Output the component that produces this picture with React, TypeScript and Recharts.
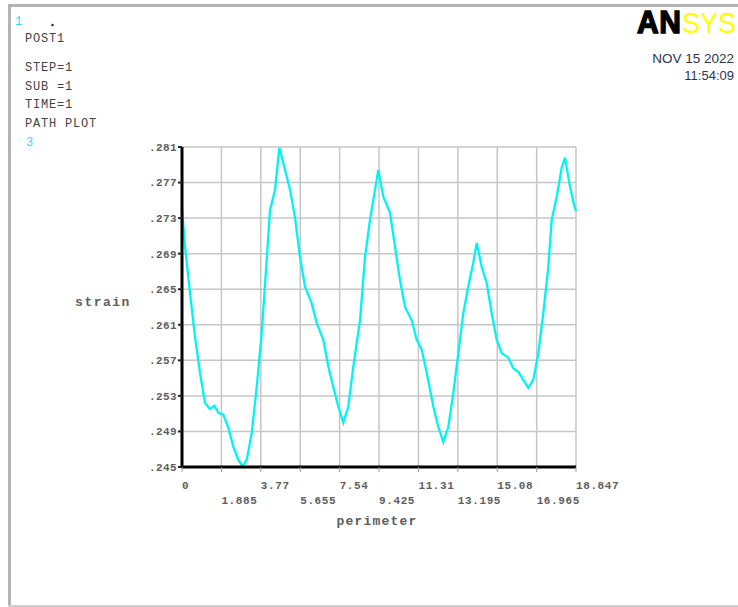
import { LineChart, Line, XAxis, YAxis, CartesianGrid } from 'recharts';

const perimeter = [
  0, 0.144, 0.383, 0.622, 0.861, 1.1, 1.339, 1.545, 1.737, 1.976, 2.215, 2.454, 2.693, 2.904,
  3.095, 3.334, 3.573, 3.813, 4.052, 4.21, 4.449, 4.655, 4.846, 5.166, 5.405, 5.644, 5.884,
  6.204, 6.443, 6.759, 6.998, 7.237, 7.477, 7.716, 7.955, 8.194, 8.515, 8.754, 8.993, 9.39,
  9.629, 9.95, 10.189, 10.428, 10.667, 10.988, 11.227, 11.466, 11.705, 12.021, 12.26, 12.499,
  12.739, 12.978, 13.217, 13.456, 13.695, 13.934, 14.097, 14.336, 14.575, 14.815, 15.054,
  15.293, 15.609, 15.848, 16.087, 16.326, 16.565, 16.804, 17.044, 17.283, 17.522, 17.684,
  17.924, 18.163, 18.321, 18.56, 18.799, 18.847,
];

const strain = [
  0.2741, 0.2698, 0.2646, 0.2596, 0.2556, 0.2522, 0.2515, 0.2519, 0.2511, 0.2509, 0.2494,
  0.2473, 0.2458, 0.2451, 0.2458, 0.2488, 0.254, 0.2601, 0.2683, 0.2739, 0.2762, 0.2809,
  0.2792, 0.2762, 0.2731, 0.2686, 0.2653, 0.2634, 0.2612, 0.2593, 0.2563, 0.254, 0.2518,
  0.25, 0.2518, 0.2563, 0.2615, 0.2686, 0.2728, 0.2784, 0.2754, 0.2736, 0.2698, 0.266,
  0.263, 0.2615, 0.2593, 0.2582, 0.2556, 0.2518, 0.2495, 0.2478, 0.2495, 0.2533, 0.2578,
  0.2623, 0.2653, 0.268, 0.2702, 0.2675, 0.2657, 0.2623, 0.2593, 0.2578, 0.2573, 0.2561,
  0.2557, 0.2548, 0.2539, 0.2548, 0.2578, 0.2623, 0.2675, 0.2728, 0.2754, 0.2787, 0.2798,
  0.2765, 0.2741, 0.2738,
];

const xTicks = [0, 1.885, 3.77, 5.655, 7.54, 9.425, 11.31, 13.195, 15.08, 16.965, 18.847];
const yTicks = [0.245, 0.249, 0.253, 0.257, 0.261, 0.265, 0.269, 0.273, 0.277, 0.281];

const infoLines = ['STEP=1', 'SUB =1', 'TIME=1', 'PATH PLOT'];

const data = perimeter.map((p, i) => ({ p, s: strain[i] }));

const mono = '"Liberation Mono", "DejaVu Sans Mono", monospace';
const sans = '"Liberation Sans", Arial, sans-serif';

const XTick = (props: any) => {
  const { x, y, payload, index } = props;
  return (
    <text
      x={x}
      y={y}
      dy={index % 2 === 0 ? 15 : 30}
      textAnchor="start"
      fontFamily={mono}
      fontSize={11}
      fontWeight="bold"
      fill="#5e5e5e"
      letterSpacing={0.6}
    >
      {payload.value}
    </text>
  );
};

export default function App() {
  return (
    <div style={{ position: 'absolute', left: 0, top: 0, width: 738, height: 607, background: '#fff' }}>
      <LineChart
        width={738}
        height={607}
        data={data}
        margin={{ top: 147, right: 162, left: 142, bottom: 100 }}
      >
        <CartesianGrid stroke="#c6c6c6" strokeWidth={1.5} />
        <XAxis
          dataKey="p"
          type="number"
          domain={[0, 18.847]}
          ticks={xTicks}
          height={40}
          tick={<XTick />}
          tickSize={5}
          tickMargin={2}
          tickLine={{ stroke: '#999', strokeWidth: 1 }}
          axisLine={{ stroke: '#000', strokeWidth: 3 }}
          interval={0}
          label={{
            value: 'perimeter',
            content: () => (
              <text x={377} y={525} textAnchor="middle" fontFamily={mono} fontSize={13}
                fontWeight="bold" fill="#5e5e5e" letterSpacing={1.2}>perimeter</text>
            ),
          }}
        />
        <YAxis
          type="number"
          domain={[0.245, 0.281]}
          ticks={yTicks}
          width={40}
          interval={0}
          tickFormatter={(v: number) => v.toFixed(3).replace(/^0/, '')}
          tick={{ fontFamily: mono, fontSize: 11, fontWeight: 'bold', fill: '#5e5e5e', letterSpacing: 0.4 }}
          tickSize={4}
          tickMargin={1}
          tickLine={{ stroke: '#222', strokeWidth: 2 }}
          axisLine={{ stroke: '#000', strokeWidth: 3 }}
          label={{
            value: 'strain',
            content: () => (
              <text x={103} y={306} textAnchor="middle" fontFamily={mono} fontSize={13}
                fontWeight="bold" fill="#5e5e5e" letterSpacing={1.5}>strain</text>
            ),
          }}
        />
        <Line
          type="linear"
          dataKey="s"
          stroke="#00f4f4"
          strokeWidth={2.3}
          dot={false}
          isAnimationActive={false}
        />
      </LineChart>
      <svg
        width={738}
        height={607}
        style={{ position: 'absolute', left: 0, top: 0, pointerEvents: 'none' }}
      >
        <line x1={9.5} y1={4} x2={9.5} y2={607} stroke="#b4b4b4" strokeWidth={3} />
        <line x1={8} y1={5.5} x2={738} y2={5.5} stroke="#b4b4b4" strokeWidth={3} />
        <line x1={8} y1={606} x2={738} y2={606} stroke="#cfcfcf" strokeWidth={2} />
        <text x={15} y={25} fontFamily={mono} fontSize={12} fill="#22e0f0">1</text>
        <circle cx={52.5} cy={25} r={1.2} fill="#222" />
        <text x={25} y={42} fontFamily={mono} fontSize={12} fill="#444" letterSpacing={0.8}>POST1</text>
        {infoLines.map((t, i) => (
          <text key={t} x={25} y={71 + i * 18.5} fontFamily={mono} fontSize={12} fill="#444" letterSpacing={0.8}>
            {t}
          </text>
        ))}
        <text x={26} y={146} fontFamily={mono} fontSize={12} fill="#22e0f0">3</text>
        <text transform="translate(637,33) scale(1,1.05)" fontFamily={sans} fontSize={30} fontWeight="bold"
          fill="#000" stroke="#000" strokeWidth={1.4} letterSpacing={0.5}>AN</text>
        <text transform="translate(682,33) scale(1,1.1)" fontFamily={sans} fontSize={27}
          fill="#ffff00">SYS</text>
        <text x={734} y={63} textAnchor="end" fontFamily={sans}
          fontSize={13.5} fill="#2b3550">NOV 15 2022</text>
        <text x={734} y={80} textAnchor="end" fontFamily={sans}
          fontSize={13} fill="#2b3550">11:54:09</text>
      </svg>
    </div>
  );
}
